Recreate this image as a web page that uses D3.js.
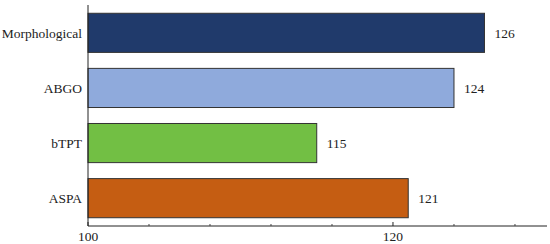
<!DOCTYPE html>
<html>
<head>
<meta charset="utf-8">
<script src="https://cdn.jsdelivr.net/npm/d3@7"></script>
<style>
  body { margin: 0; background: #fff; }
</style>
</head>
<body>
<div id="chart"></div>
<script>
(function () {

  // Data
  const categories = ["Morphological", "ABGO", "bTPT", "ASPA"]
  const values = [126, 124, 115, 121]
  const colors = ["#203a6b", "#8faadc", "#72bf44", "#c55d12"]
  const majorTicks = [100, 120]
  const minorTicks = [104, 108, 112, 116, 124, 128]

  const width = 550
  const height = 244
  const font = "'Liberation Serif', 'Times New Roman', Times, 'DejaVu Serif', serif"

  const svg = d3.select("#chart").append("svg")
      .attr("width", width)
      .attr("height", height)
      .style("font-family", font)

  const xScale = d3.scaleLinear()
    .domain([100, 130.1])
    .range([88, 547])

  const yScale = d3.scaleBand()
    .domain(categories)
    .range([5, 226])
    .paddingInner(0.29)
    .paddingOuter(0.15)

  const rows = categories.map((c, i) => ({ name: c, value: values[i], color: colors[i] }))

  // Bars
  svg.selectAll('rect.bar')
    .data(rows)
    .join('rect')
    .attr('class', 'bar')
    .attr('x', xScale(100))
    .attr('y', d => yScale(d.name))
    .attr('width', d => xScale(d.value) - xScale(100))
    .attr('height', yScale.bandwidth())
    .attr('fill', d => d.color)
    .attr('stroke', '#333')
    .attr('stroke-width', 1)

  // Value labels
  svg.selectAll('text.value')
    .data(rows)
    .join('text')
    .attr('class', 'value')
    .attr('x', d => xScale(d.value) + 10)
    .attr('y', d => yScale(d.name) + yScale.bandwidth() / 2)
    .attr('dy', '0.35em')
    .attr('font-family', font)
    .attr('font-size', 13.5)
    .attr('fill', '#222')
    .text(d => d.value)

  // Category labels
  svg.selectAll('text.cat')
    .data(rows)
    .join('text')
    .attr('class', 'cat')
    .attr('x', 82)
    .attr('y', d => yScale(d.name) + yScale.bandwidth() / 2)
    .attr('dy', '0.35em')
    .attr('text-anchor', 'end')
    .attr('font-family', font)
    .attr('font-size', 13.5)
    .attr('fill', '#222')
    .text(d => d.name)

  // Left axis line
  svg.append('line')
    .attr('x1', xScale(100)).attr('x2', xScale(100))
    .attr('y1', 5).attr('y2', 226)
    .attr('stroke', '#222')

  // Bottom axis
  const axisY = 226
  svg.append('line')
    .attr('x1', xScale(100)).attr('x2', xScale.range()[1])
    .attr('y1', axisY).attr('y2', axisY)
    .attr('stroke', '#222')

  svg.selectAll('line.major')
    .data(majorTicks)
    .join('line')
    .attr('class', 'major')
    .attr('x1', d => xScale(d)).attr('x2', d => xScale(d))
    .attr('y1', axisY).attr('y2', axisY - 4)
    .attr('stroke', '#222')

  svg.selectAll('line.minor')
    .data(minorTicks)
    .join('line')
    .attr('class', 'minor')
    .attr('x1', d => xScale(d)).attr('x2', d => xScale(d))
    .attr('y1', axisY).attr('y2', axisY - 2)
    .attr('stroke', '#444')

  svg.selectAll('text.tick')
    .data(majorTicks)
    .join('text')
    .attr('class', 'tick')
    .attr('x', d => xScale(d))
    .attr('y', 241)
    .attr('text-anchor', 'middle')
    .attr('font-family', font)
    .attr('font-size', 13.5)
    .attr('fill', '#222')
    .text(d => d)
})();
</script>
</body>
</html>
